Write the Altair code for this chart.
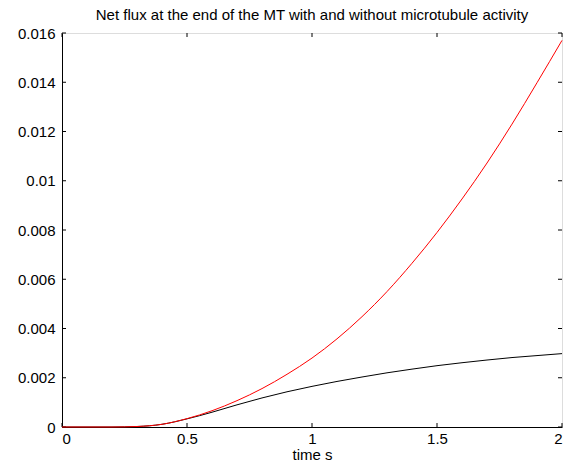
import altair as alt
import pandas as pd

t = [0.0, 0.1, 0.2, 0.3, 0.4, 0.5, 0.6, 0.7, 0.8, 0.9, 1.0,
     1.1, 1.2, 1.3, 1.4, 1.5, 1.6, 1.7, 1.8, 1.9, 2.0]
with_mt = [0.0, 0.0, 0.0, 0.00002, 0.00011, 0.00034, 0.00066, 0.00107, 0.00156, 0.00214, 0.00280,
           0.00358, 0.00448, 0.00550, 0.00665, 0.00790, 0.00926, 0.01072, 0.01230, 0.01398, 0.01570]
without_mt = [0.0, 0.0, 0.0, 0.00002, 0.00011, 0.00033, 0.00060, 0.00090, 0.00118, 0.00143, 0.00165,
              0.00185, 0.00203, 0.00220, 0.00235, 0.00249, 0.00261, 0.00272, 0.00282, 0.00290, 0.00298]
x_ticks = [0, 0.5, 1, 1.5, 2]
y_ticks = [0, 0.002, 0.004, 0.006, 0.008, 0.010, 0.012, 0.014, 0.016]

W, H = 500, 394
FONT = "Liberation Sans"
FS = 15

df = pd.DataFrame({"t": t, "with": with_mt, "without": without_mt})
xt = pd.DataFrame({"v": x_ticks})
yt = pd.DataFrame({"v": y_ticks})

xs = alt.Scale(domain=[0, 2], nice=False, zero=False)
ys = alt.Scale(domain=[0, 0.016], nice=False, zero=False)

xaxis = alt.Axis(values=x_ticks, format=".1~f", title="time s", ticks=False,
                 labelPadding=4, titlePadding=1, grid=False, domainColor="black",
                 labelFont=FONT, titleFont=FONT, labelFontSize=FS, titleFontSize=FS,
                 titleFontWeight="normal", labelColor="black", titleColor="black")
yaxis = alt.Axis(values=y_ticks, format=".3~f", title=None, ticks=False,
                 labelPadding=7, grid=False, domainColor="black",
                 labelFont=FONT, labelFontSize=FS, labelColor="black")

black = alt.Chart(df).mark_line(color="black", strokeWidth=1, interpolate="monotone").encode(
    x=alt.X("t:Q", scale=xs, axis=xaxis),
    y=alt.Y("without:Q", scale=ys, axis=yaxis),
)
red = alt.Chart(df).mark_line(color="red", strokeWidth=1, interpolate="monotone").encode(
    x=alt.X("t:Q", scale=xs),
    y=alt.Y("with:Q", scale=ys),
)

tl = 4
xb = alt.Chart(xt).mark_rule(color="black", strokeWidth=1).encode(
    x=alt.X("v:Q", scale=xs), y=alt.value(H), y2=alt.value(H - tl))
xtp = alt.Chart(xt).mark_rule(color="black", strokeWidth=1).encode(
    x=alt.X("v:Q", scale=xs), y=alt.value(0), y2=alt.value(tl))
yl = alt.Chart(yt).mark_rule(color="black", strokeWidth=1).encode(
    y=alt.Y("v:Q", scale=ys), x=alt.value(0), x2=alt.value(tl))
yr = alt.Chart(yt).mark_rule(color="black", strokeWidth=1).encode(
    y=alt.Y("v:Q", scale=ys), x=alt.value(W), x2=alt.value(W - tl))

chart = alt.layer(xb, xtp, yl, yr, black, red).properties(
    width=W, height=H,
    title=alt.TitleParams("Net flux at the end of the MT with and without microtubule activity",
                          font=FONT, fontSize=FS, fontWeight="normal", color="black", offset=3),
    autosize=alt.AutoSizeParams(type="none"),
    padding={"left": 54, "top": 25, "right": 2, "bottom": 35},
).configure_view(stroke="black", strokeWidth=1.5).configure(background="white")

chart.save("out.html", embed_options={"renderer": "svg", "actions": False})
